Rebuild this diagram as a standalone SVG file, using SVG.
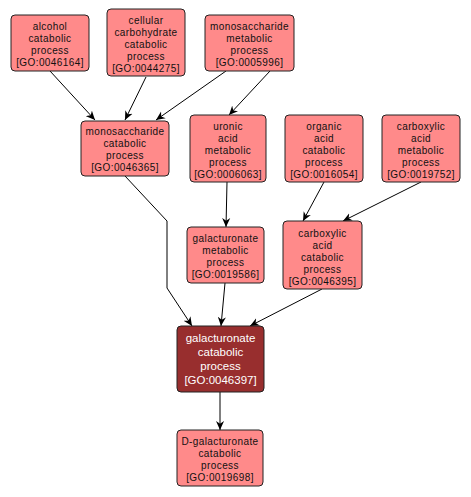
<svg xmlns="http://www.w3.org/2000/svg" width="471" height="497" viewBox="0 0 471 497">
<defs>
<marker id="arr" viewBox="0 0 10 10" refX="10" refY="5" markerWidth="9" markerHeight="9" markerUnits="userSpaceOnUse" orient="auto">
<path d="M0,0.5 L10,5 L0,9.5 L3,5 z" fill="#000"/>
</marker>
<style>
.n rect{fill:#ff8a8a;stroke:#222;stroke-width:1}
.n text{font-family:"Liberation Sans",Arial,sans-serif;font-size:10px;letter-spacing:0.4px;fill:#111;text-anchor:middle}
.d rect{fill:#982e2e;stroke:#222;stroke-width:1}
.d text{font-family:"Liberation Sans",Arial,sans-serif;font-size:11.5px;fill:#fff;text-anchor:middle}
.e path{fill:none;stroke:#000;stroke-width:1;marker-end:url(#arr)}
</style>
</defs>
<rect width="471" height="497" fill="#fff"/>
<g class="e" id="edges">
<path d="M50,71 L95,120"/>
<path d="M146,77 L125,120"/>
<path d="M226,71 L156,120"/>
<path d="M270,71 L229,115"/>
<path d="M125,176 L167,221 L167,288 L192,326"/>
<path d="M227,182 L226,227"/>
<path d="M324,182 L303,221"/>
<path d="M421,182 L343,221"/>
<path d="M225,283 L221,326"/>
<path d="M322,289 L250,326"/>
<path d="M220,392 L220,430"/>
</g>
<g class="n" id="GO0046164"><rect x="11" y="15" width="78" height="56" rx="4"/>
<text x="50" y="29.5">alcohol</text><text x="50" y="41.5">catabolic</text><text x="50" y="53.5">process</text><text x="50" y="65.5">[GO:0046164]</text></g>
<g class="n" id="GO0044275"><rect x="107" y="9" width="78" height="67" rx="4"/>
<text x="146" y="24">cellular</text><text x="146" y="36">carbohydrate</text><text x="146" y="48">catabolic</text><text x="146" y="60">process</text><text x="146" y="72">[GO:0044275]</text></g>
<g class="n" id="GO0005996"><rect x="205" y="15" width="89" height="56" rx="4"/>
<text x="249.5" y="29.5">monosaccharide</text><text x="249.5" y="41.5">metabolic</text><text x="249.5" y="53.5">process</text><text x="249.5" y="65.5">[GO:0005996]</text></g>
<g class="n" id="GO0046365"><rect x="81" y="121" width="88" height="55" rx="4"/>
<text x="125" y="135">monosaccharide</text><text x="125" y="147">catabolic</text><text x="125" y="159">process</text><text x="125" y="171">[GO:0046365]</text></g>
<g class="n" id="GO0006063"><rect x="190" y="115" width="76" height="67" rx="4"/>
<text x="228" y="130">uronic</text><text x="228" y="142">acid</text><text x="228" y="154">metabolic</text><text x="228" y="166">process</text><text x="228" y="178">[GO:0006063]</text></g>
<g class="n" id="GO0016054"><rect x="285" y="115" width="78" height="67" rx="4"/>
<text x="324" y="130">organic</text><text x="324" y="142">acid</text><text x="324" y="154">catabolic</text><text x="324" y="166">process</text><text x="324" y="178">[GO:0016054]</text></g>
<g class="n" id="GO0019752"><rect x="382" y="115" width="78" height="67" rx="4"/>
<text x="421" y="130">carboxylic</text><text x="421" y="142">acid</text><text x="421" y="154">metabolic</text><text x="421" y="166">process</text><text x="421" y="178">[GO:0019752]</text></g>
<g class="n" id="GO0019586"><rect x="187" y="227" width="77" height="56" rx="4"/>
<text x="225.5" y="241.5">galacturonate</text><text x="225.5" y="253.5">metabolic</text><text x="225.5" y="265.5">process</text><text x="225.5" y="277.5">[GO:0019586]</text></g>
<g class="n" id="GO0046395"><rect x="283" y="221" width="79" height="68" rx="4"/>
<text x="322.5" y="236.5">carboxylic</text><text x="322.5" y="248.5">acid</text><text x="322.5" y="260.5">catabolic</text><text x="322.5" y="272.5">process</text><text x="322.5" y="284.5">[GO:0046395]</text></g>
<g class="d" id="GO0046397"><rect x="177" y="326" width="87" height="66" rx="4"/>
<text x="220.5" y="342">galacturonate</text><text x="220.5" y="356">catabolic</text><text x="220.5" y="370">process</text><text x="220.5" y="384">[GO:0046397]</text></g>
<g class="n" id="GO0019698"><rect x="177" y="430" width="86" height="56" rx="4"/>
<text x="220" y="444.5">D-galacturonate</text><text x="220" y="456.5">catabolic</text><text x="220" y="468.5">process</text><text x="220" y="480.5">[GO:0019698]</text></g>
</svg>
